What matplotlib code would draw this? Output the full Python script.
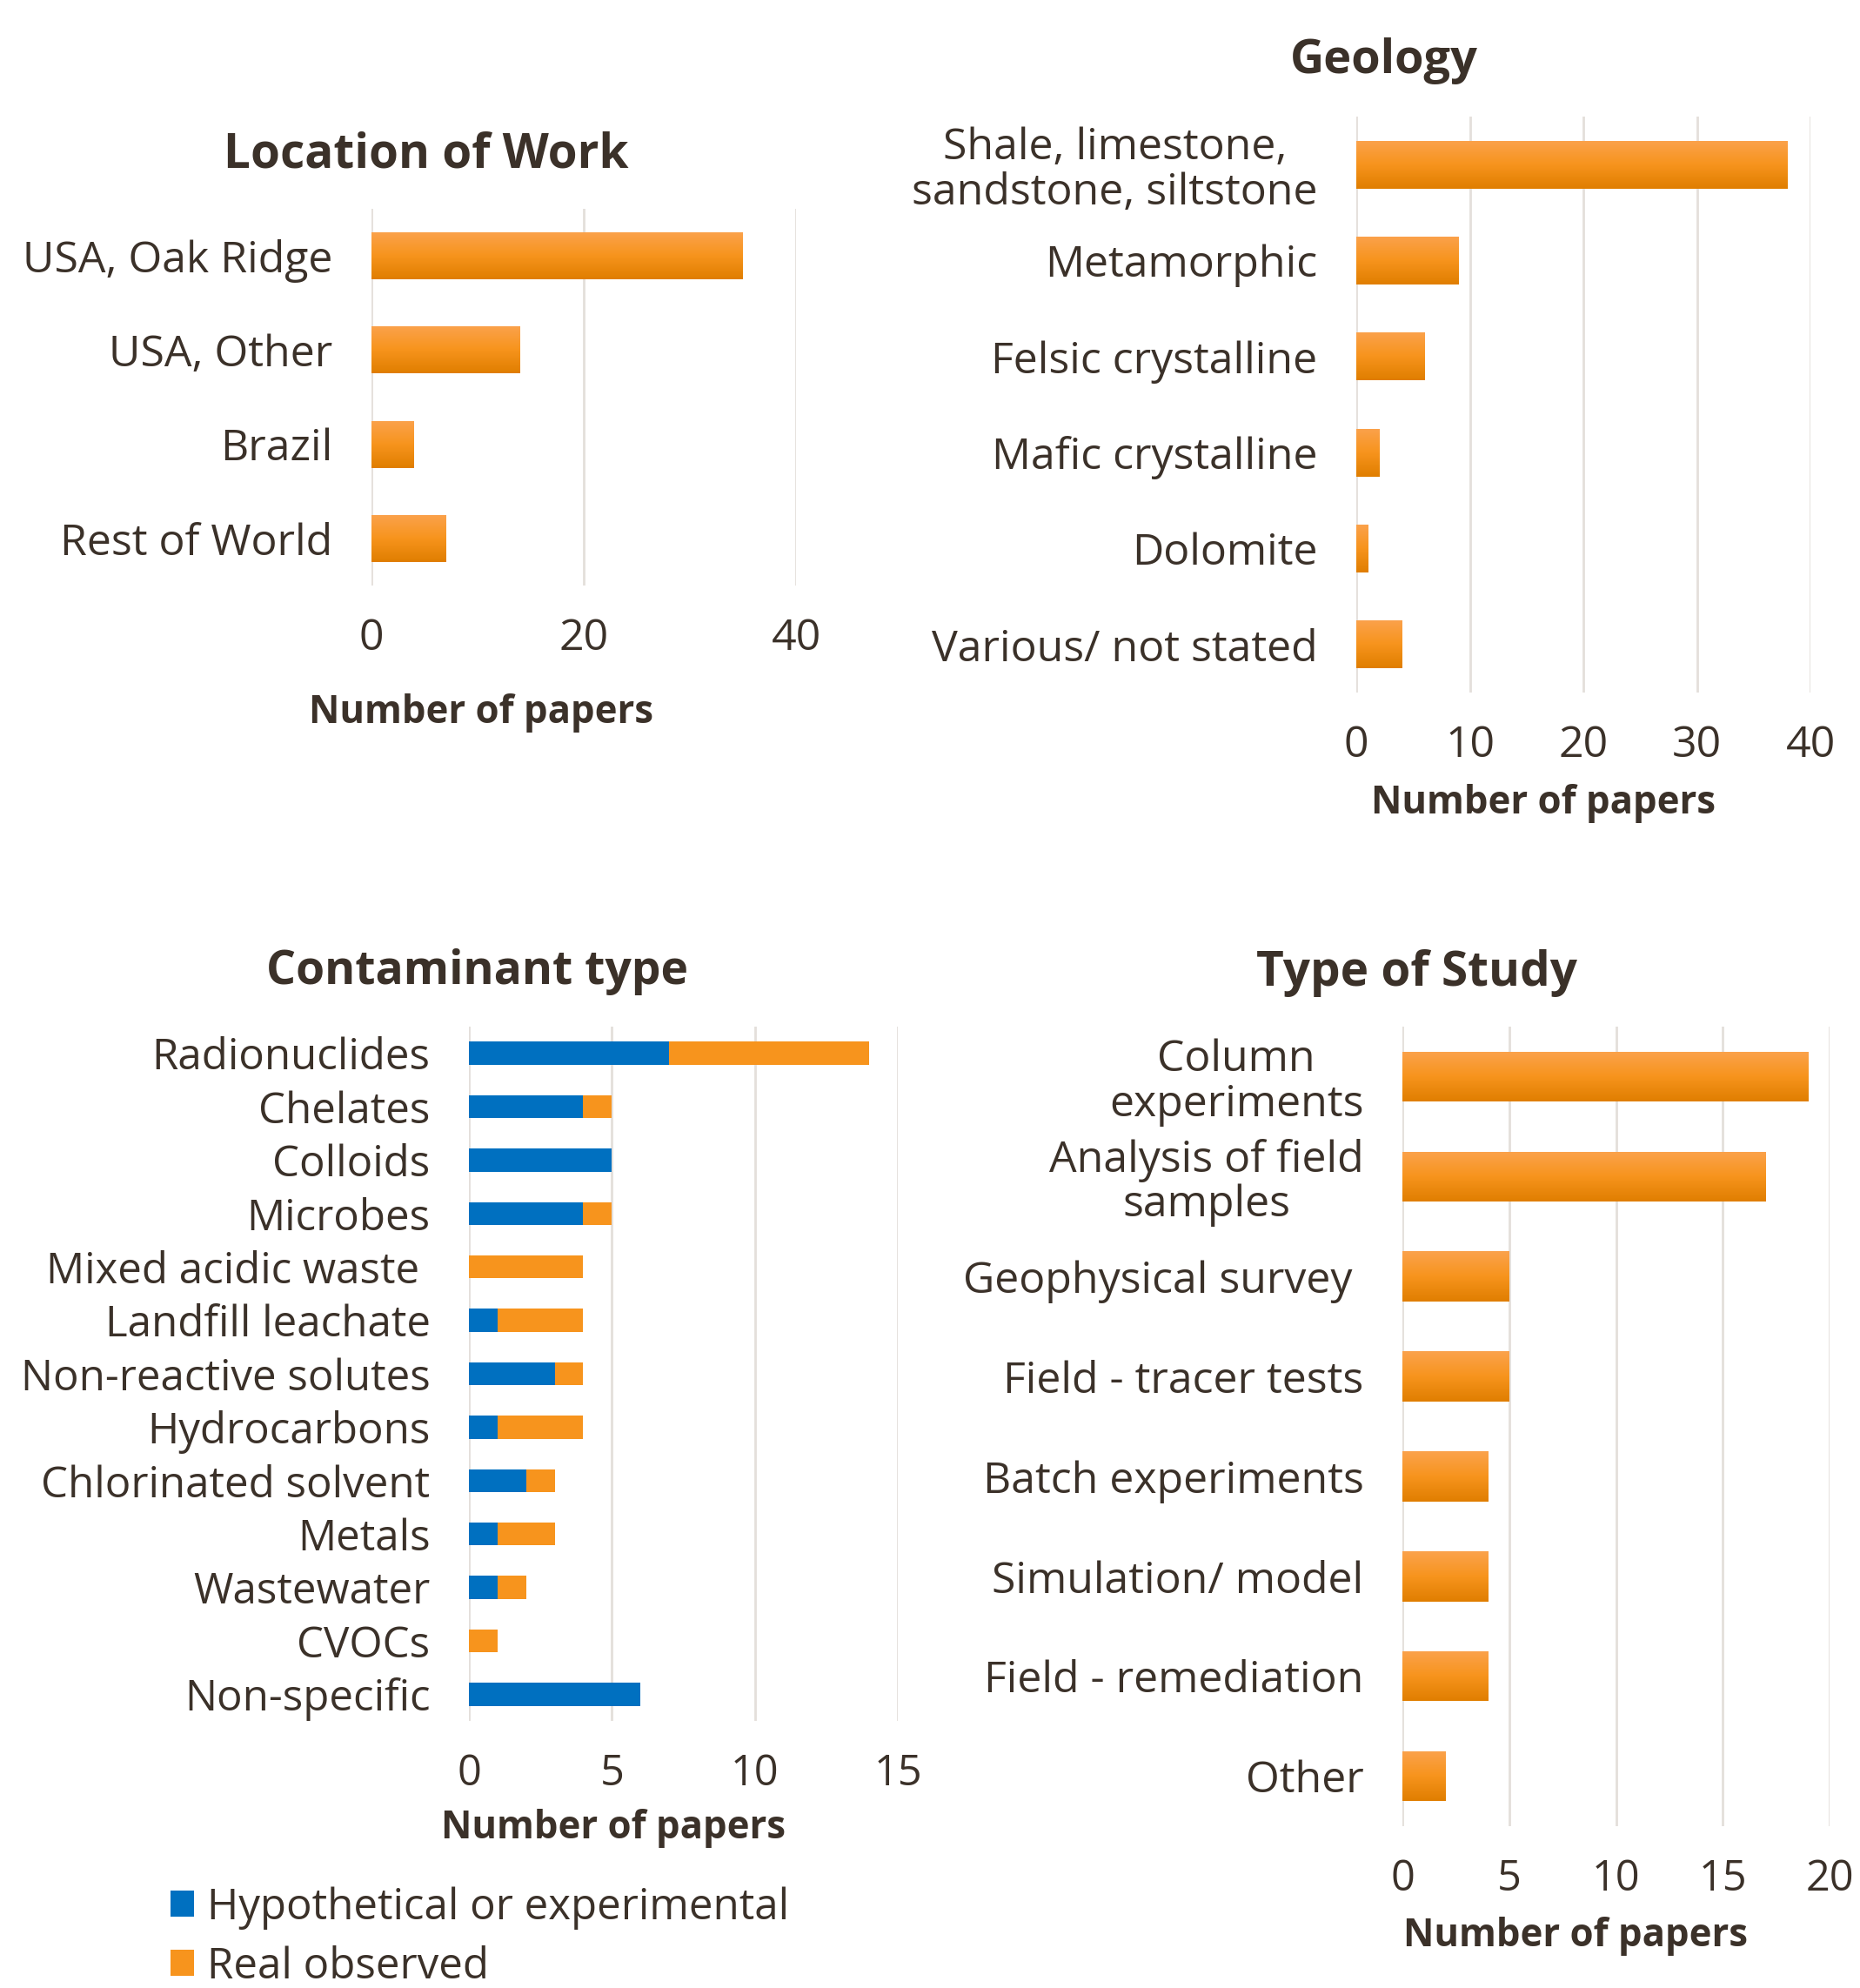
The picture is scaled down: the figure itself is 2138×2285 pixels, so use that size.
import matplotlib.pyplot as plt
import numpy as np
from matplotlib.colors import LinearSegmentedColormap

plt.rcParams['font.family'] = ['Open Sans', 'DejaVu Sans']

TXT = '#3b3129'
GRID = '#e4dfdb'
BLUE = '#0070c0'
ORANGE = '#f7941d'

# Location of Work
loc_labels = ['USA, Oak Ridge', 'USA, Other', 'Brazil', 'Rest of World']
loc_values = [35, 14, 4, 7]

# Geology
geo_labels = ['Shale, limestone,\nsandstone, siltstone', 'Metamorphic',
              'Felsic crystalline', 'Mafic crystalline', 'Dolomite',
              'Various/ not stated']
geo_values = [38, 9, 6, 2, 1, 4]

# Contaminant type
cont_labels = ['Radionuclides', 'Chelates', 'Colloids', 'Microbes',
               'Mixed acidic waste ', 'Landfill leachate',
               'Non-reactive solutes', 'Hydrocarbons', 'Chlorinated solvent',
               'Metals', 'Wastewater', 'CVOCs', 'Non-specific']
cont_hyp = [7, 4, 5, 4, 0, 1, 3, 1, 2, 1, 1, 0, 6]
cont_real = [7, 1, 0, 1, 4, 3, 1, 3, 1, 2, 1, 1, 0]

# Type of Study
study_labels = ['Column\nexperiments', 'Analysis of field\nsamples',
                'Geophysical survey ', 'Field - tracer tests',
                'Batch experiments', 'Simulation/ model',
                'Field - remediation', 'Other']
study_values = [19, 17, 5, 5, 4, 4, 4, 2]

grad_cmap = LinearSegmentedColormap.from_list(
    'grad', ['#fba24c', '#f7941d', '#e07e00'])
grad = np.linspace(0, 1, 64).reshape(-1, 1)

W, H = 2138, 2285
fig = plt.figure(figsize=(W / 100, H / 100), dpi=100)


def px_axes(left, top, right, bottom):
    return fig.add_axes([left / W, 1 - bottom / H, (right - left) / W,
                         (bottom - top) / H])


def style(ax, xmax, step, n, lsize=36, tsize=36):
    ax.set_xlim(0, xmax)
    ax.set_ylim(n - 0.5, -0.5)
    ax.set_xticks(np.arange(0, xmax + 0.1, step))
    ax.grid(axis='x', color=GRID, linewidth=2)
    ax.set_axisbelow(True)
    for s in ax.spines.values():
        s.set_visible(False)
    ax.tick_params(axis='y', length=0, pad=32, labelsize=lsize, colors=TXT)
    ax.tick_params(axis='x', length=0, pad=26, labelsize=tsize, colors=TXT)
    for t in ax.get_yticklabels():
        t.set_multialignment('center')
        t.set_linespacing(1.05)


def gradient_bars(ax, labels, values, height=0.5):
    bars = ax.barh(labels, values, height=height, color='none')
    for b in bars:
        x0, y0 = b.get_x(), b.get_y()
        im = ax.imshow(grad, cmap=grad_cmap, aspect='auto',
                       extent=[x0, x0 + b.get_width(), y0 + b.get_height(), y0],
                       zorder=2)
        im.set_clip_path(b)
    return bars


def title(x, y, s, size=39):
    fig.text(x / W, 1 - y / H, s, ha='center', va='center',
             fontsize=size, fontweight='bold', color=TXT)


def xlab(x, y):
    fig.text(x / W, 1 - y / H, 'Number of papers', ha='center', va='center',
             fontsize=31.5, fontweight='bold', color=TXT)


# Location of Work
ax1 = px_axes(427, 240, 915, 673)
gradient_bars(ax1, loc_labels, loc_values)
style(ax1, 40, 20, len(loc_labels))
title(490, 178, 'Location of Work', 39.5)
xlab(553, 820)

# Geology
ax2 = px_axes(1559, 134, 2081, 796)
gradient_bars(ax2, geo_labels, geo_values)
style(ax2, 40, 10, len(geo_labels))
title(1591, 70, 'Geology', 39)
xlab(1774, 923)

# Contaminant type
ax3 = px_axes(539, 1180, 1032, 1978)
b_hyp = ax3.barh(cont_labels, cont_hyp, height=0.43, color=BLUE,
                 label='Hypothetical or experimental')
b_real = ax3.barh(cont_labels, cont_real, left=cont_hyp, height=0.43,
                  color=ORANGE, label='Real observed')
style(ax3, 15, 5, len(cont_labels), lsize=35.5, tsize=35)
title(548, 1117, 'Contaminant type', 38.5)
xlab(705, 2102)
fig.legend(handles=[b_hyp, b_real], loc='upper left',
           bbox_to_anchor=(196 / W, 1 - 2168 / H), frameon=False,
           fontsize=35.5, labelcolor=TXT, handlelength=0.55, handleheight=0.55,
           handletextpad=0.3, labelspacing=0.38, borderaxespad=0,
           borderpad=0)

# Type of Study
ax4 = px_axes(1612, 1180, 2103, 2099)
gradient_bars(ax4, study_labels, study_values)
style(ax4, 20, 5, len(study_labels), lsize=36, tsize=35)
title(1628, 1118, 'Type of Study', 39.5)
xlab(1811, 2226)

fig.savefig('out.png', dpi=100, facecolor='white')
